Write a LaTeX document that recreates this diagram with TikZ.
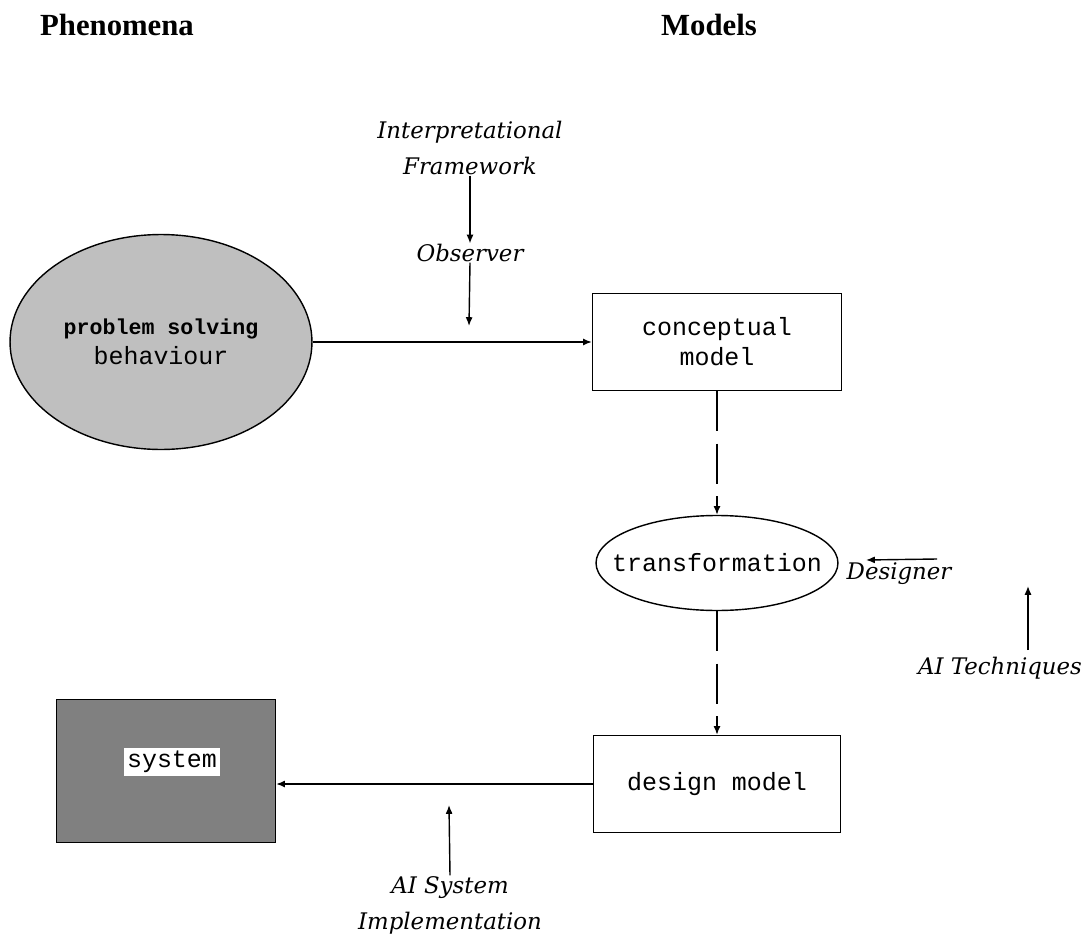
\documentclass[tikz,border=0pt]{standalone}
\usepackage{fontspec}
\setmainfont{DejaVu Serif}
\newfontfamily\headfont{Liberation Serif}
\newfontfamily\codefont{Liberation Mono}
\usetikzlibrary{arrows.meta,shapes.geometric}

\tikzset{
  head/.style={font=\headfont\bfseries\fontsize{17.5}{20}\selectfont},
  lbl/.style={font=\itshape\fontsize{13}{20.5}\selectfont, align=center, inner sep=0},
  code/.style={font=\codefont\fontsize{14.2}{17}\selectfont, align=center},
  modelbox/.style={draw, code, minimum width=#1, minimum height=1.94cm, inner sep=0},
}

\begin{document}
\begin{tikzpicture}[x=0.02cm, y=-0.02cm, line width=0.8pt,
    >={Latex[length=5pt,width=4pt]}]
    \useasboundingbox (0,0) rectangle (1086,943);

    % Headings
    \node[head] (phen) at (117,25) {Phenomena};
    \node[head] (mods) at (709,25) {Models};

    % Phenomenon
    \node[draw, ellipse, fill=black!25, minimum width=6.04cm, minimum height=4.3cm,
          inner sep=0] (behav) at (161,342) {};
    \node[code] (behavlbl) at (behav)
          {{\fontsize{12.3}{15}\selectfont\bfseries problem solving}\\behaviour};

    % Conceptual model
    \node[modelbox=4.98cm] (concept) at (717,342) {conceptual\\model};

    % Transformation
    \node[draw, ellipse, minimum width=4.84cm, minimum height=1.9cm,
          inner sep=0] (transf) at (717,563) {};
    \node[code] (transflbl) at (transf) {transformation};

    % Design model
    \node[modelbox=4.94cm] (design) at (717,784) {design model};

    % System
    \node[draw, fill=black!50, minimum width=4.38cm, minimum height=2.86cm] (sys) at (166,771) {};
    \node[fill=white, code, inner sep=2pt] (syslbl) at (172,762) {system};

    % Observer
    \node[lbl] (interp) at (470,148) {Interpretational\\Framework};
    \node[lbl] (obs) at (470,253) {Observer};
    \coordinate (obstip) at (469,326);
    \draw[->] (interp.south) -- (obs.north);
    \draw[->] (obs.south) -- (obstip);
    \draw[->] (behav.east) -- (concept.west);

    % Transformation arrows
    \draw[->, dash pattern=on 0.8cm off 0.25cm] (concept.south) -- (transf.north);
    \draw[->, dash pattern=on 0.8cm off 0.25cm] (transf.south) -- (design.north);

    % Designer
    \node[lbl] (des) at (899,574) {Designer};
    \coordinate (desfoot) at (937,559);
    \coordinate (destip) at (866,560);
    \draw[->] (desfoot) -- (destip);

    % AI Techniques
    \node[lbl] (tech) at (1000,668) {AI Techniques};
    \coordinate (techfoot) at (1028,650);
    \coordinate (techtip) at (1028,586);
    \draw[->] (techfoot) -- (techtip);

    % Implementation
    \draw[->] (design.west) -- (design.west -| sys.east);
    \node[lbl] (impl) at (450,905) {AI System\\Implementation};
    \coordinate (impltip) at (449,805);
    \draw[->] (impl.north) -- (impltip);
\end{tikzpicture}
\end{document}
